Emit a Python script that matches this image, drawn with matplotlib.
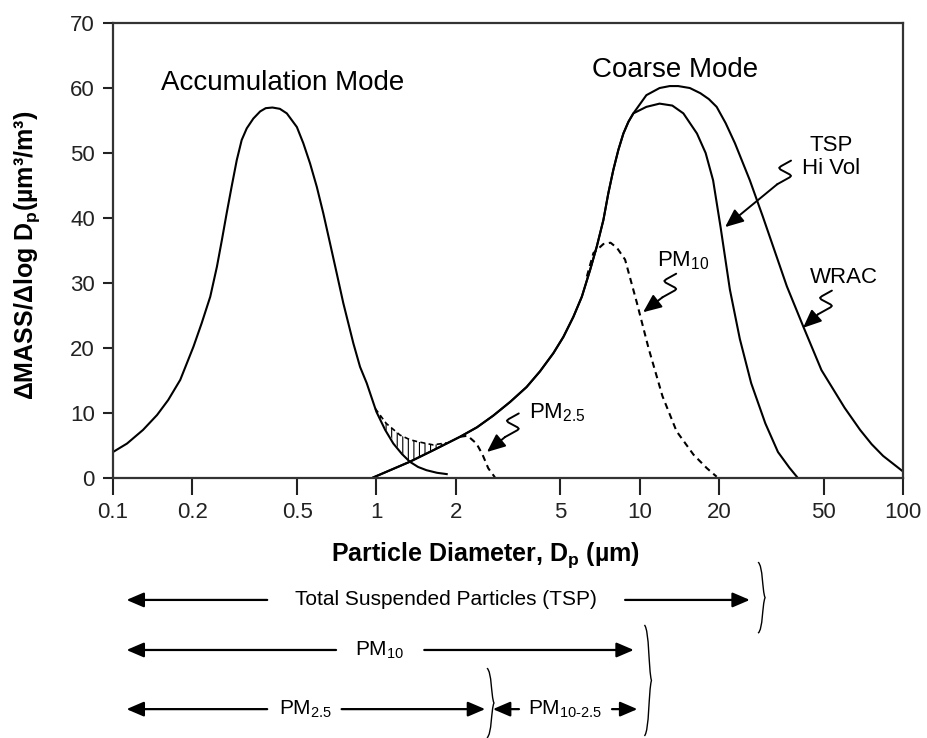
import matplotlib.pyplot as plt
from matplotlib.lines import Line2D
from matplotlib.patches import PathPatch
from matplotlib.path import Path
from matplotlib.transforms import IdentityTransform, blended_transform_factory
from matplotlib.ticker import NullLocator

plt.rcParams['font.family'] = ['Liberation Sans', 'DejaVu Sans']
plt.rcParams['mathtext.fontset'] = 'custom'
plt.rcParams['mathtext.rm'] = 'Liberation Sans'
plt.rcParams['mathtext.bf'] = 'Liberation Sans:bold'
plt.rcParams['hatch.linewidth'] = 0.8

# values (x in um, y in um3/m3)
accum_x = [0.100, 0.113, 0.130, 0.147, 0.162, 0.180, 0.202, 0.217, 0.234, 0.248, 0.259, 0.270,
           0.282, 0.295, 0.308, 0.322, 0.341, 0.362, 0.380, 0.403, 0.430, 0.457, 0.499,
           0.528, 0.560, 0.594, 0.629, 0.667, 0.707, 0.749, 0.818, 0.867, 0.919, 1.00,
           1.08, 1.16, 1.25, 1.34, 1.44, 1.55, 1.70, 1.85]
accum_y = [4.0, 5.3, 7.4, 9.7, 12.0, 15.1, 20.2, 23.8, 27.9, 32.5, 36.6, 40.7,
           44.8, 48.9, 52.0, 53.8, 55.3, 56.4, 56.9, 57.0, 56.8, 56.1, 54.0,
           51.5, 48.4, 44.8, 40.7, 36.1, 31.5, 26.9, 20.7, 17.1, 14.6, 10.2,
           7.4, 5.3, 3.7, 2.5, 1.7, 1.2, 0.8, 0.6]

# rising limb shared by both coarse-mode curves
coarse_x = [0.975, 1.34, 1.65, 2.08, 2.41, 2.78, 3.22, 3.72, 4.18, 4.70, 5.13, 5.60, 6.03,
            6.48, 6.87, 7.28, 7.60, 7.94, 8.30, 8.67, 9.06, 9.46]
coarse_y = [0.1, 2.5, 4.3, 6.35, 7.8, 9.6, 11.7, 14.0, 16.4, 19.2, 21.7, 24.8, 27.9,
            32.0, 35.6, 39.7, 43.8, 47.4, 50.5, 53.0, 54.8, 56.1]

wrac_x = [10.6, 11.9, 13.0, 14.0, 15.5, 17.0, 18.3, 19.6, 21.2, 23.0, 26.2, 29.3, 36.2,
          41.9, 49.0, 60.0, 68.7, 76.0, 84.0, 100]
wrac_y = [58.9, 60.0, 60.3, 60.3, 60.0, 59.2, 58.3, 57.1, 54.6, 51.5, 45.8, 40.3, 29.5,
          23.2, 16.6, 10.8, 7.4, 5.2, 3.4, 1.0]

tsp_x = [10.6, 11.9, 13.3, 14.65, 16.5, 17.8, 19.0, 20.3, 22.0, 24.0, 26.5, 30.0, 33.5,
         37.0, 39.5]
tsp_y = [57.1, 57.6, 57.3, 56.1, 53.0, 50.0, 45.8, 38.5, 29.0, 21.4, 14.6, 8.4, 4.0,
         1.6, 0.2]

pm10_x = [6.3, 6.67, 7.28, 7.75, 8.2, 8.8, 9.75, 10.8, 12.2, 13.8, 16.0, 18.0, 19.6]
pm10_y = [31.0, 34.6, 36.0, 36.2, 35.4, 33.6, 27.0, 20.0, 12.6, 7.2, 3.6, 1.5, 0.2]

pm25_x = [2.08, 2.22, 2.40, 2.53, 2.66, 2.82]
pm25_y = [6.35, 6.5, 5.3, 3.6, 1.5, 0.1]

hatch_x = [0.99, 1.09, 1.23, 1.34, 1.43, 1.64, 1.85]
hatch_top = [10.7, 8.4, 6.6, 5.9, 5.6, 5.1, 5.4]
hatch_bot = [10.7, 7.4, 4.2, 2.5, 3.1, 4.3, 5.4]

xticks = [0.1, 0.2, 0.5, 1, 2, 5, 10, 20, 50, 100]
xtick_labels = ['0.1', '0.2', '0.5', '1', '2', '5', '10', '20', '50', '100']
yticks = [0, 10, 20, 30, 40, 50, 60, 70]

fig = plt.figure(figsize=(9.28, 7.38), dpi=100)
ax = fig.add_axes([0.1218, 0.3523, 0.8513, 0.6165])
ax.set_xscale('log')
ax.set_xlim(0.1, 100)
ax.set_ylim(0, 70)
ax.set_xticks(xticks)
ax.set_xticklabels(xtick_labels)
ax.xaxis.set_minor_locator(NullLocator())
ax.set_yticks(yticks)
ax.tick_params(direction='out', width=1.5, labelsize=16, colors='#222222')
ax.tick_params(axis='x', length=12, pad=5)
ax.tick_params(axis='y', length=7, pad=6)
for sp in ax.spines.values():
    sp.set_linewidth(1.6)
    sp.set_color('#333333')

lw = 1.5
ax.plot(accum_x, accum_y, color='black', lw=lw, solid_joinstyle='round')
ax.plot(coarse_x + wrac_x, coarse_y + wrac_y, color='black', lw=lw, solid_joinstyle='round')
ax.plot(coarse_x + tsp_x, coarse_y + tsp_y, color='black', lw=lw, solid_joinstyle='round')
ax.plot(pm10_x, pm10_y, color='black', lw=lw, ls=(0, (3, 2.2)))
ax.plot(pm25_x, pm25_y, color='black', lw=lw, ls=(0, (3, 2.2)))
ax.fill_between(hatch_x, hatch_bot, hatch_top, facecolor='none', edgecolor='black',
                hatch='|||', linewidth=0)
ax.plot(hatch_x, hatch_top, color='black', lw=1.2, ls=(0, (3, 2)))

ax.set_xlabel('Particle Diameter, D$_\\mathbf{p}$ (µm)', fontsize=18, fontweight='bold')
ax.xaxis.set_label_coords(0.471, -0.138)
ax.set_ylabel('ΔMASS/Δlog D$_\\mathbf{p}$(µm³/m³)', fontsize=18, fontweight='bold')
ax.yaxis.set_label_coords(-0.09, 0.49)

ax.text(0.439, 60.8, 'Accumulation Mode', fontsize=20, ha='center', va='center')
ax.text(13.6, 62.8, 'Coarse Mode', fontsize=20, ha='center', va='center')
ax.text(53.3, 49.4, 'TSP\nHi Vol', fontsize=16, ha='center', va='center', linespacing=1.15)
ax.text(59.7, 30.9, 'WRAC', fontsize=16, ha='center', va='center')
ax.text(14.6, 33.5, 'PM$_\\mathrm{10}$', fontsize=16, ha='center', va='center')
ax.text(4.86, 10.0, 'PM$_\\mathrm{2.5}$', fontsize=16, ha='center', va='center')

# small "S" squiggle that leads into each pointer arrow (offsets in points)
sq_shape = [(11, 17), (3, 13), (1.5, 11.8), (2.5, 10.6), (10, 7), (11, 6), (10, 5), (0, 0)]


def callout(start, tip):
    cx, cy = ax.transData.transform(start)
    s = fig.dpi / 72
    xs = [cx + dx * s * 0.9 for dx, dy in sq_shape]
    ys = [cy + dy * s for dx, dy in sq_shape]
    fig.add_artist(Line2D(xs, ys, color='black', lw=1.4, transform=IdentityTransform(),
                          solid_joinstyle='round', solid_capstyle='round'))
    ax.annotate('', xy=tip, xytext=start,
                arrowprops=dict(arrowstyle='-|>,head_length=0.7,head_width=0.3', color='black',
                                lw=1.4, shrinkA=0, shrinkB=0, mutation_scale=16))


callout((33.3, 45.2), (21.1, 38.6))
callout((12.2, 27.8), (10.3, 25.5))
callout((47.6, 25.2), (41.7, 23.1))
callout((3.08, 6.3), (2.63, 4.0))

# size classes drawn under the axis
trans = blended_transform_factory(ax.transData, ax.transAxes)


def arrow(x_from, x_to, yf):
    ax.annotate('', xy=(x_to, yf), xytext=(x_from, yf), xycoords=trans, textcoords=trans,
                annotation_clip=False,
                arrowprops=dict(arrowstyle='-|>,head_length=0.7,head_width=0.3', color='black',
                                lw=1.6, shrinkA=0, shrinkB=0, mutation_scale=15))


def brace(xb, y_top, y_bot):
    px = ax.transData.transform((xb, 1))[0]
    top = ax.transAxes.transform((0, y_top))[1]
    bot = ax.transAxes.transform((0, y_bot))[1]
    h = top - bot
    pts = [(-3, 0), (2, 0.05), (1, 0.4), (4, 0.5), (1, 0.6), (2, 0.95), (-3, 1.0)]
    verts = [(px + dx, top - f * h) for dx, f in pts]
    codes = [Path.MOVETO] + [Path.CURVE4] * 6
    fig.add_artist(PathPatch(Path(verts, codes), fill=False, lw=1.0, color='black',
                             transform=IdentityTransform()))


x_left = 0.1125
rows = [-0.268, -0.378, -0.508]

arrow(0.385, x_left, rows[0])
ax.text(1.84, rows[0], 'Total Suspended Particles (TSP)', transform=trans, fontsize=15,
        ha='center', va='center')
arrow(8.8, 26.2, rows[0])
brace(28.9, -0.185, -0.341)

arrow(0.703, x_left, rows[1])
ax.text(1.03, rows[1], 'PM$_\\mathrm{10}$', transform=trans, fontsize=15, ha='center', va='center')
arrow(1.52, 9.5, rows[1])
brace(10.7, -0.323, -0.567)

arrow(0.385, x_left, rows[2])
ax.text(0.54, rows[2], 'PM$_\\mathrm{2.5}$', transform=trans, fontsize=15, ha='center', va='center')
arrow(0.738, 2.59, rows[2])
brace(2.70, -0.418, -0.571)
arrow(3.48, 2.77, rows[2])
ax.text(5.21, rows[2], 'PM$_\\mathrm{10\\text{-}2.5}$', transform=trans, fontsize=15,
        ha='center', va='center')
arrow(7.85, 9.8, rows[2])

fig.savefig('out.png', dpi=100)
